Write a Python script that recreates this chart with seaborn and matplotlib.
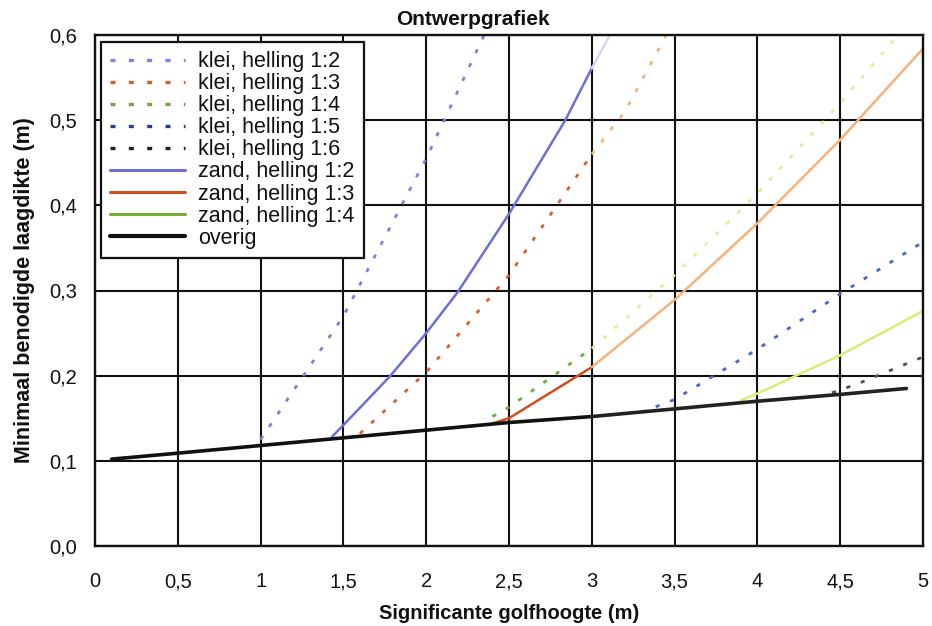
import matplotlib
matplotlib.use("Agg")
import matplotlib.pyplot as plt
import seaborn as sns
import numpy as np
from matplotlib.lines import Line2D

# ---- data ----
klei_12_x = [1.0, 1.5, 2.0, 2.35]
klei_12_y = [0.125, 0.27, 0.455, 0.60]

klei_13_x = [1.6, 2.0, 2.5, 3.0, 3.2, 3.45]
klei_13_y = [0.132, 0.204, 0.318, 0.46, 0.51, 0.60]

klei_14_x = [2.4, 2.5, 3.0, 3.5, 4.0, 4.5, 4.85]
klei_14_y = [0.152, 0.163, 0.232, 0.318, 0.414, 0.52, 0.60]

klei_15_x = [3.3, 3.5, 4.0, 4.5, 5.0]
klei_15_y = [0.157, 0.172, 0.231, 0.296, 0.357]

klei_16_x = [4.45, 4.6, 5.0]
klei_16_y = [0.18, 0.19, 0.222]

zand_12_x = [1.43, 1.5, 1.78, 2.0, 2.19, 2.5, 2.84, 3.0, 3.11]
zand_12_y = [0.128, 0.142, 0.199, 0.25, 0.298, 0.39, 0.50, 0.561, 0.60]

zand_13_x = [2.4, 2.5, 3.0, 3.5, 4.0, 4.5, 5.0]
zand_13_y = [0.144, 0.15, 0.21, 0.289, 0.379, 0.477, 0.584]

zand_14_x = [3.9, 4.0, 4.5, 5.0]
zand_14_y = [0.171, 0.179, 0.224, 0.276]

overig_x = [0.1, 0.5, 1.0, 1.5, 2.0, 2.5, 3.0, 3.5, 4.0, 4.5, 4.9]
overig_y = [0.102, 0.109, 0.118, 0.127, 0.136, 0.145, 0.152, 0.161, 0.170, 0.178, 0.185]

labels = ["klei, helling 1:2", "klei, helling 1:3", "klei, helling 1:4",
          "klei, helling 1:5", "klei, helling 1:6", "zand, helling 1:2",
          "zand, helling 1:3", "zand, helling 1:4", "overig"]

x_ticks = [0, 0.5, 1, 1.5, 2, 2.5, 3, 3.5, 4, 4.5, 5]
x_ticklabels = ["0", "0,5", "1", "1,5", "2", "2,5", "3", "3,5", "4", "4,5", "5"]
y_ticks = [0.0, 0.1, 0.2, 0.3, 0.4, 0.5, 0.6]
y_ticklabels = ["0,0", "0,1", "0,2", "0,3", "0,4", "0,5", "0,6"]

# ---- styling ----
sns.set_theme(style="white")
plt.rcParams["font.family"] = ["Liberation Sans", "DejaVu Sans"]

series = [
    # x, y, legend colour, faded colour (scan fade beyond x=3), dashed, lw
    (klei_12_x, klei_12_y, "#7c80e6", "#7c80e6", True, 2.0),
    (klei_13_x, klei_13_y, "#d9602e", "#f2b57a", True, 2.0),
    (klei_14_x, klei_14_y, "#6cab3c", "#dcef9c", True, 2.0),
    (klei_15_x, klei_15_y, "#283c9c", "#4a68cc", True, 2.0),
    (klei_16_x, klei_16_y, "#202020", "#505050", True, 2.0),
    (zand_12_x, zand_12_y, "#6e6ed8", "#d6d6f2", False, 1.8),
    (zand_13_x, zand_13_y, "#cf4f1f", "#f4b27c", False, 1.8),
    (zand_14_x, zand_14_y, "#74b038", "#d4ee78", False, 1.8),
    (overig_x, overig_y, "#111111", "#222222", False, 2.6),
]

fig = plt.figure(figsize=(9.32, 6.26), dpi=100)
ax = fig.add_axes([95 / 932, 80 / 626, 828 / 932, 511 / 626])

handles = []
for (xs, ys, col, fcol, dashed, lw), lab in zip(series, labels):
    xs = np.asarray(xs); ys = np.asarray(ys)
    ls = (0, (1.5, 4)) if dashed else "-"
    m1 = xs <= 3.0
    m2 = xs >= 3.0
    if m1.sum() >= 2:
        sns.lineplot(x=xs[m1], y=ys[m1], ax=ax, color=col, linestyle=ls,
                     linewidth=lw, sort=False, estimator=None, legend=False)
    if m2.sum() >= 2:
        sns.lineplot(x=xs[m2], y=ys[m2], ax=ax, color=fcol, linestyle=ls,
                     linewidth=lw, sort=False, estimator=None, legend=False)
    handles.append(Line2D([0], [0], color=col, linestyle=ls, linewidth=lw + 0.4, label=lab))

ax.set_xlim(0, 5)
ax.set_ylim(0, 0.6)
ax.set_xticks(x_ticks)
ax.set_xticklabels(x_ticklabels)
ax.set_yticks(y_ticks)
ax.set_yticklabels(y_ticklabels)
ax.grid(True, color="#111111", linewidth=1.5)
ax.set_axisbelow(True)
for s in ax.spines.values():
    s.set_color("#111111")
    s.set_linewidth(1.7)
ax.tick_params(axis="both", direction="out", length=6, width=1.3, color="#111111",
               labelsize=14.5, labelcolor="#111111")
ax.tick_params(axis="y", pad=7)
ax.tick_params(axis="x", pad=13)

fig.text(473 / 932, 1 - 25 / 626, "Ontwerpgrafiek", fontsize=15, fontweight="bold",
         color="#111111", ha="center", va="baseline")
ax.set_xlabel("Significante golfhoogte (m)", fontsize=14.5, fontweight="bold",
              color="#111111", labelpad=9)
ax.set_ylabel("Minimaal benodigde laagdikte (m)", fontsize=15.5, fontweight="bold",
              color="#111111", labelpad=10)

leg = ax.legend(handles=handles, loc="upper left", bbox_to_anchor=(6 / 828, 1 - 7 / 511),
                fontsize=15.5, frameon=True, fancybox=False, framealpha=1,
                edgecolor="#111111", handlelength=3.5, labelspacing=0.05,
                borderpad=0.42, handletextpad=0.6, borderaxespad=0.0)
leg.get_frame().set_linewidth(1.6)
for t in leg.get_texts():
    t.set_color("#111111")

fig.savefig("out.png", dpi=100, facecolor="white")
